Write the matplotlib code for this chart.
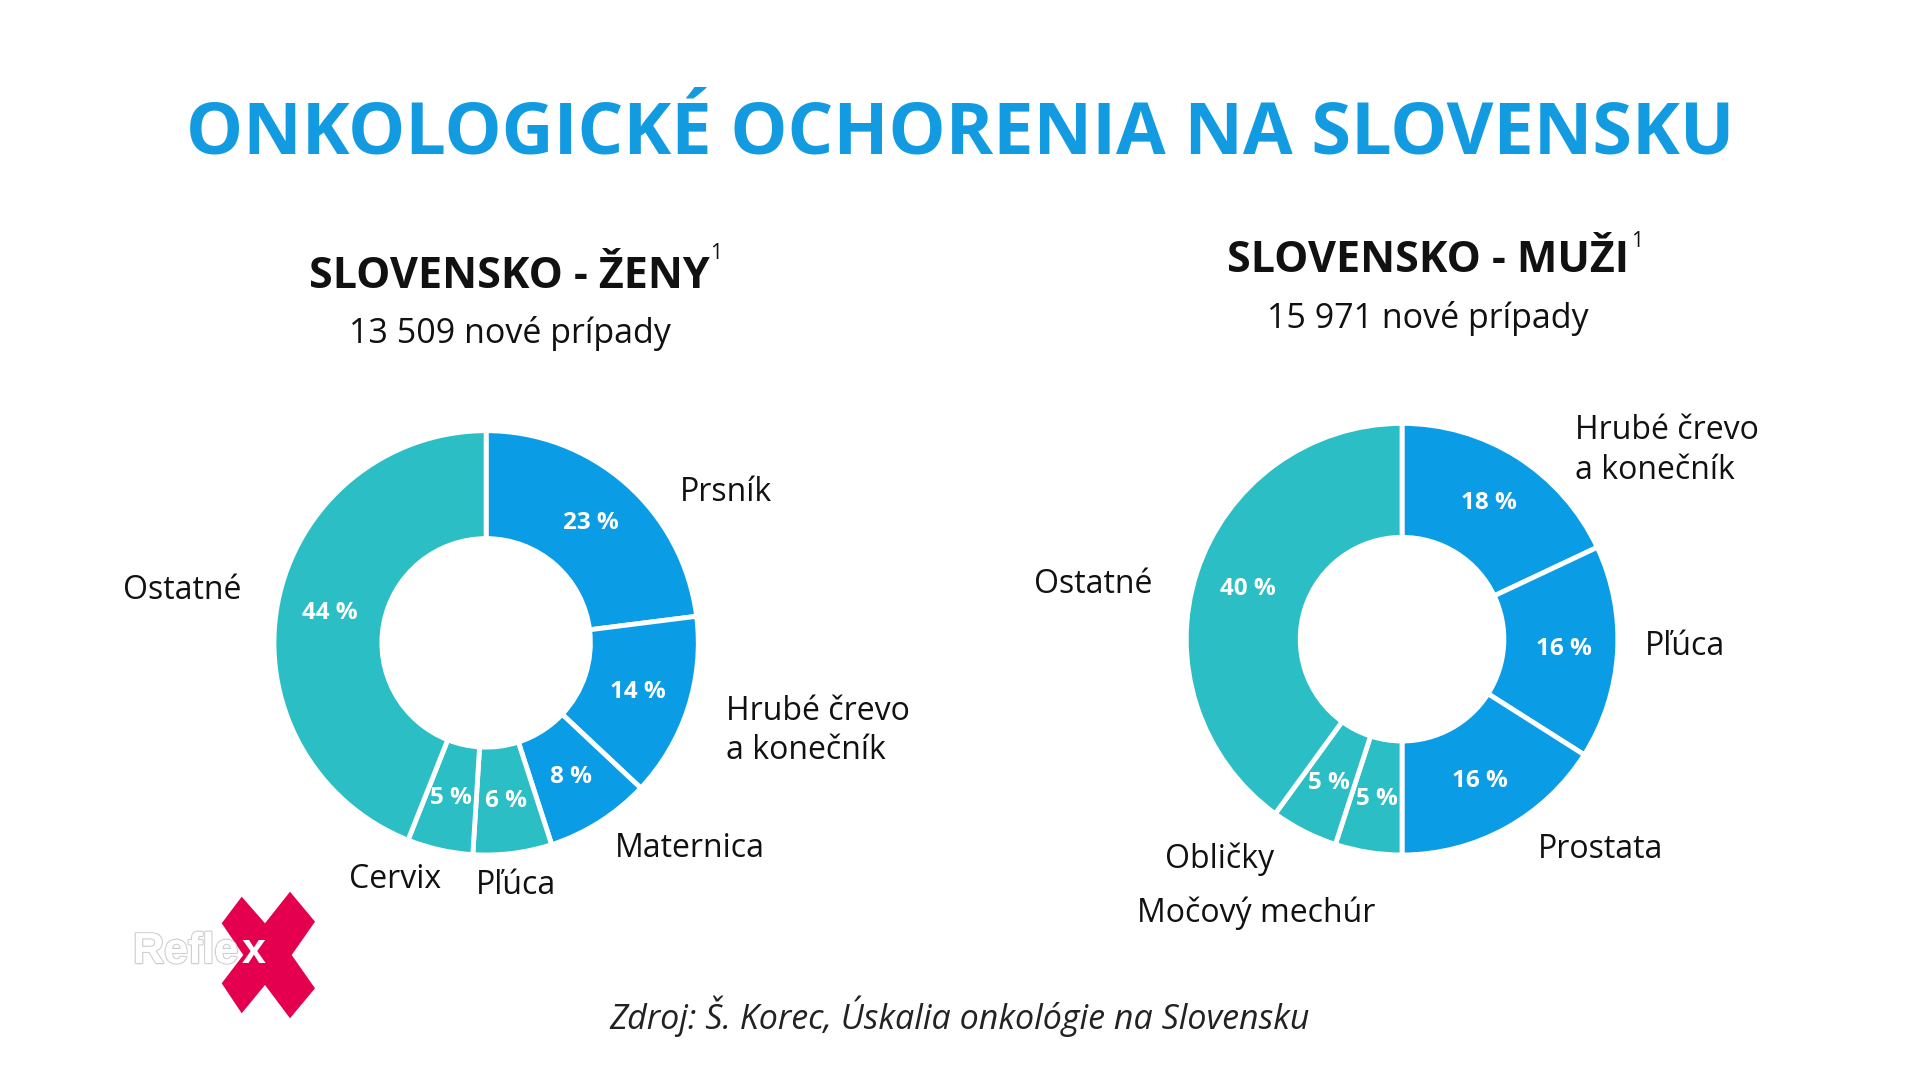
import matplotlib
matplotlib.use('Agg')
import matplotlib.pyplot as plt
from matplotlib.patches import Polygon
import matplotlib.patheffects as pe

plt.rcParams['font.family'] = ['Open Sans', 'DejaVu Sans']

# data
zeny_labels = ['Prsník', 'Hrubé črevo\na konečník', 'Maternica', 'Pľúca', 'Cervix', 'Ostatné']
zeny_values = [23, 14, 8, 6, 5, 44]
muzi_labels = ['Hrubé črevo\na konečník', 'Pľúca', 'Prostata', 'Močový mechúr', 'Obličky', 'Ostatné']
muzi_values = [18, 16, 16, 5, 5, 40]
zeny_total = '13 509 nové prípady'
muzi_total = '15 971 nové prípady'

BLUE = '#0B9CE6'
TEAL = '#2BBEC4'
zeny_colors = [BLUE, BLUE, BLUE, TEAL, TEAL, TEAL]
muzi_colors = [BLUE, BLUE, BLUE, TEAL, TEAL, TEAL]

W, H = 1920, 1080
S = 1920 / 1568  # reference read in 1568x880 units


def fx(x):
    return x * S / W


def fy(y):
    return 1 - y * S / H


fig = plt.figure(figsize=(19.2, 10.8), dpi=100)
fig.patch.set_facecolor('white')


def donut(cx, cy, r, rin, values, colors):
    R = r * S
    ax = fig.add_axes([(cx * S - R) / W, 1 - (cy * S + R) / H, 2 * R / W, 2 * R / H])
    ax.pie(values, colors=colors, startangle=90, counterclock=False,
           radius=1, autopct=lambda p: f'{p:.0f} %', pctdistance=0.75,
           wedgeprops=dict(width=1 - rin / r, edgecolor='white', linewidth=3.5),
           textprops=dict(color='white', fontsize=17.5, fontweight='bold'))
    ax.set_xlim(-1.01, 1.01)
    ax.set_ylim(-1.01, 1.01)
    ax.set_aspect('equal')
    ax.axis('off')
    return ax


donut(397, 525, 175, 86, zeny_values, zeny_colors)
donut(1145, 522, 178, 84, muzi_values, muzi_colors)

# title
fig.text(fx(784), fy(110), 'ONKOLOGICKÉ OCHORENIA NA SLOVENSKU', ha='center', va='center',
         fontsize=51.8, fontweight='bold', color='#139BE1')

# subtitles
fig.text(fx(416), fy(226), 'SLOVENSKO - ŽENY', ha='center', va='center', fontsize=31,
         fontweight='bold', color='#111111')
fig.text(fx(585), fy(207), '1', ha='center', va='center', fontsize=15, color='#111111')
fig.text(fx(416), fy(272), zeny_total, ha='center', va='center', fontsize=24.5, color='#111111')

fig.text(fx(1166), fy(213), 'SLOVENSKO - MUŽI', ha='center', va='center', fontsize=31,
         fontweight='bold', color='#111111')
fig.text(fx(1337), fy(197), '1', ha='center', va='center', fontsize=15, color='#111111')
fig.text(fx(1166), fy(260), muzi_total, ha='center', va='center', fontsize=24.5, color='#111111')

# category labels (x, y, ha) in reference units
zeny_pos = [(555, 402, 'left'), (593, 597, 'left'), (502, 693, 'left'),
            (421, 723, 'center'), (323, 718, 'center'), (197, 482, 'right')]
muzi_pos = [(1286, 368, 'left'), (1343, 528, 'left'), (1256, 694, 'left'),
            (1026, 746, 'center'), (996, 702, 'center'), (941, 477, 'right')]

for labels, pos in ((zeny_labels, zeny_pos), (muzi_labels, muzi_pos)):
    for lab, (x, y, ha) in zip(labels, pos):
        fig.text(fx(x), fy(y), lab, ha=ha, va='center', fontsize=23, color='#111111',
                 linespacing=1.25)

# source
fig.text(fx(784), fy(830), 'Zdroj: Š. Korec, Úskalia onkológie na Slovensku', ha='center',
         va='center', fontsize=24.5, style='italic', color='#222222')

# Reflex logo (drawn in output pixel units)
logo_x = [241.7, 265, 290, 315, 291.7, 315, 290, 265, 241.7, 221.7, 243.3, 221.7]
logo_y = [896.7, 923.3, 891.7, 921.7, 955, 988.3, 1018.3, 985, 1013.3, 983.3, 955, 923.3]
fig.patches.append(Polygon([(a / W, 1 - b / H) for a, b in zip(logo_x, logo_y)], closed=True,
                           transform=fig.transFigure, facecolor='#E4004E', edgecolor='none'))
t = fig.text(133 / W, 1 - 952 / H, 'Refle', ha='left', va='center', fontsize=31, fontweight='bold',
             color='white', family='Liberation Sans')
t.set_path_effects([pe.withStroke(linewidth=1.8, foreground='#cfcfcf'), pe.Normal()])
fig.text(254 / W, 1 - 952 / H, 'x', ha='center', va='center', fontsize=31, fontweight='bold',
         color='white', family='Liberation Sans')

fig.savefig('out.png', dpi=100, facecolor='white')
